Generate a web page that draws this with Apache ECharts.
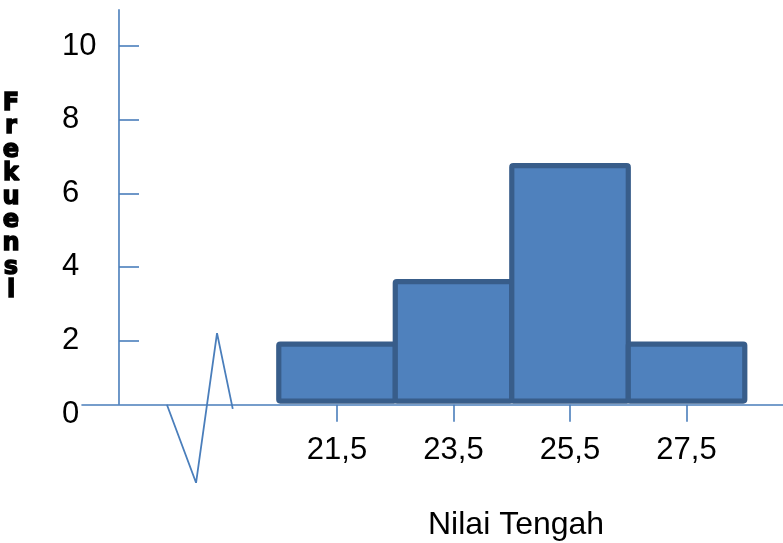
<!DOCTYPE html>
<html>
<head>
<meta charset="utf-8">
<script src="https://cdn.jsdelivr.net/npm/echarts@6/dist/echarts.min.js"></script>
<style>
  html, body { margin: 0; padding: 0; background: #ffffff; }
  #chart { width: 783px; height: 543px; }
</style>
</head>
<body>
<div id="chart"></div>
<script>
// Histogram classes (lower and upper class boundaries) and their frequencies
const classLower = [20.5, 22.5, 24.5, 26.5];
const classUpper = [22.5, 24.5, 26.5, 28.5];
const frequencies = [1.9, 3.6, 6.75, 1.9];

// Tick values shown on each axis
const xTickValues = [21.5, 23.5, 25.5, 27.5];
const yTickValues = [2, 4, 6, 8, 10];
const yLabelValues = [0, 2, 4, 6, 8, 10];

// Axis-break zigzag on the horizontal axis
const breakX = [18.58, 19.08, 19.44, 19.71];
const breakY = [0.25, -1.87, 2.2, 0.14];

const xTitle = 'Nilai Tengah';
const yTitle = 'Frekuensi';

// Axis ranges, where the vertical axis crosses, the level of the
// horizontal axis line and where the bars rest
const xMin = 17.122, xMax = 29.156;
const yMin = 0, yMax = 11;
const yAxisCrossX = 17.757;
const axisLevel = 0.25;
const barBase = 0.35;

const axisBlue = '#4A7EBB';
const labelFont = 'Liberation Sans, Arial, sans-serif';

const histData = classLower.map((lo, i) => [lo, classUpper[i], frequencies[i]]);
const breakData = breakX.map((x, i) => [x, breakY[i]]);
// vertical axis line, running from the horizontal axis up to the top of the range
const yAxisLineData = [[yAxisCrossX, axisLevel], [yAxisCrossX, yMax]];

const chart = echarts.init(document.getElementById('chart'), null, { renderer: 'canvas' });

chart.setOption({
  animation: false,
  backgroundColor: '#ffffff',
  title: [
    {
      text: xTitle,
      left: 428, top: 509, padding: 0,
      textStyle: { fontFamily: labelFont, fontSize: 32, fontWeight: 'normal', color: '#000000' }
    },
    {
      text: yTitle.split('').join('\n'),
      left: 11, top: 92, padding: 0, textAlign: 'center',
      textStyle: {
        fontFamily: 'DejaVu Sans, sans-serif', fontSize: 24, fontWeight: 'bold', lineHeight: 23.4,
        color: '#000000', textBorderColor: '#000000', textBorderWidth: 1.4
      }
    }
  ],
  grid: { left: 82, right: 0, top: 9.3, bottom: 129, outerBoundsMode: 'none', containLabel: false },
  xAxis: {
    type: 'value',
    min: xMin, max: xMax,
    offset: -9.3,
    splitLine: { show: false },
    axisLine: { onZero: false, lineStyle: { color: axisBlue, width: 1.6 } },
    axisTick: { show: true, length: 17, lineStyle: { color: axisBlue, width: 1.6 }, customValues: xTickValues },
    axisLabel: {
      customValues: xTickValues,
      margin: 30, lineHeight: 31,
      fontFamily: labelFont, fontSize: 31, color: '#000000',
      formatter: v => v.toFixed(1).replace('.', ',')
    }
  },
  yAxis: {
    type: 'value',
    min: yMin, max: yMax,
    offset: -37,
    splitLine: { show: false },
    axisLine: { show: false, onZero: false },
    axisTick: { show: true, inside: true, length: 20, lineStyle: { color: axisBlue, width: 1.6 }, customValues: yTickValues },
    axisLabel: {
      customValues: yLabelValues,
      align: 'left', margin: 57,
      fontFamily: labelFont, fontSize: 31, color: '#000000'
    }
  },
  series: [
    {
      type: 'custom',
      data: histData,
      encode: { x: [0, 1], y: 2 },
      z: 3,
      renderItem: function (params, api) {
        const p0 = api.coord([api.value(0), barBase]);
        const p1 = api.coord([api.value(1), api.value(2)]);
        return {
          type: 'rect',
          shape: { x: p0[0], y: p1[1], width: p1[0] - p0[0], height: p0[1] - p1[1], r: 1.5 },
          style: { fill: '#4F81BD', stroke: '#385D8A', lineWidth: 5.2, lineJoin: 'round' }
        };
      }
    },
    {
      type: 'line',
      data: yAxisLineData,
      symbol: 'none',
      clip: false,
      silent: true,
      z: 4,
      lineStyle: { color: axisBlue, width: 1.6 }
    },
    {
      type: 'line',
      data: breakData,
      symbol: 'none',
      clip: false,
      silent: true,
      z: 4,
      lineStyle: { color: axisBlue, width: 1.8 }
    }
  ]
});
</script>
</body>
</html>
